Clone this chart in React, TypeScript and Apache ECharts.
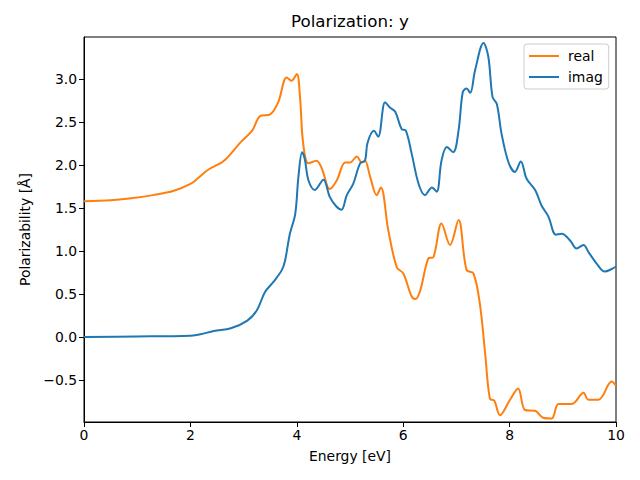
import React, { useEffect, useRef } from "react";
import * as echarts from "echarts";

const realE = [0, 0.5, 0.85, 1.3, 1.69, 2.0, 2.13, 2.32, 2.63, 2.95, 3.16, 3.31, 3.5, 3.65, 3.81, 3.9, 4.0, 4.06, 4.12, 4.22, 4.37, 4.47, 4.62, 4.75, 4.91, 5.0, 5.13, 5.22, 5.28, 5.38, 5.5, 5.58, 5.72, 5.88, 6.0, 6.16, 6.23, 6.32, 6.47, 6.57, 6.72, 6.88, 7.04, 7.19, 7.32, 7.44, 7.54, 7.63, 7.71, 7.82, 8.0, 8.16, 8.29, 8.48, 8.63, 8.79, 8.92, 9.17, 9.39, 9.48, 9.67, 9.92, 10];
const realV = [1.58, 1.59, 1.61, 1.65, 1.7, 1.78, 1.84, 1.94, 2.05, 2.27, 2.4, 2.57, 2.59, 2.73, 3.02, 2.98, 3.06, 2.79, 2.25, 2.02, 2.05, 1.96, 1.72, 1.82, 2.03, 2.03, 2.1, 2.03, 2.05, 1.86, 1.65, 1.74, 1.24, 0.81, 0.74, 0.47, 0.44, 0.54, 0.91, 0.93, 1.32, 1.07, 1.36, 0.78, 0.74, 0.39, -0.19, -0.72, -0.74, -0.91, -0.74, -0.6, -0.85, -0.86, -0.94, -0.95, -0.78, -0.78, -0.65, -0.73, -0.73, -0.52, -0.57];

const imagE = [0, 1, 2, 2.19, 2.44, 2.76, 3.07, 3.25, 3.4, 3.56, 3.72, 3.78, 3.87, 3.97, 4.03, 4.1, 4.15, 4.22, 4.34, 4.5, 4.62, 4.74, 4.84, 4.94, 5.06, 5.19, 5.28, 5.33, 5.45, 5.53, 5.66, 5.75, 5.85, 5.97, 6.05, 6.16, 6.29, 6.41, 6.54, 6.63, 6.72, 6.82, 6.94, 7.04, 7.12, 7.19, 7.26, 7.35, 7.51, 7.6, 7.68, 7.76, 7.85, 7.98, 8.1, 8.21, 8.32, 8.48, 8.6, 8.73, 8.87, 8.98, 9.14, 9.26, 9.39, 9.48, 9.64, 9.79, 9.92, 10];
const imagV = [0, 0.005, 0.015, 0.03, 0.07, 0.1, 0.19, 0.31, 0.52, 0.64, 0.78, 0.89, 1.2, 1.43, 1.86, 2.15, 2.07, 1.82, 1.71, 1.83, 1.63, 1.52, 1.48, 1.65, 1.78, 2.02, 2.05, 2.26, 2.4, 2.33, 2.73, 2.67, 2.62, 2.42, 2.4, 2.13, 1.78, 1.65, 1.74, 1.69, 2.05, 2.21, 2.15, 2.4, 2.85, 2.89, 2.84, 3.1, 3.42, 3.26, 2.79, 2.71, 2.36, 2.03, 1.92, 2.04, 1.84, 1.71, 1.53, 1.4, 1.19, 1.2, 1.12, 1.03, 1.07, 0.99, 0.85, 0.76, 0.79, 0.82];

const yTicks = [-0.5, 0, 0.5, 1.0, 1.5, 2.0, 2.5, 3.0];
const xTicks = [0, 2, 4, 6, 8, 10];

const FONT = "DejaVu Sans";

export default function App() {
  const ref = useRef<HTMLDivElement>(null);
  useEffect(() => {
    if (!ref.current) return;
    const chart = echarts.init(ref.current, undefined, { renderer: "svg" });
    const fmtY = (v: number) => v.toFixed(1).replace("-", "\u2212");
    chart.setOption({
      animation: false,
      backgroundColor: "#ffffff",
      textStyle: { fontFamily: FONT },
      title: {
        text: "Polarization: y",
        left: 291,
        top: 12,
        padding: 0,
        textStyle: { fontFamily: FONT, fontSize: 16.7, fontWeight: "normal", color: "#000" },
      },
      legend: {
        orient: "vertical",
        left: 524,
        top: 44,
        padding: [5, 6, 5, 5],
        itemWidth: 30,
        itemHeight: 14,
        itemGap: 7,
        borderColor: "#cccccc",
        borderWidth: 1,
        borderRadius: 3,
        backgroundColor: "rgba(255,255,255,0.8)",
        textStyle: { fontFamily: FONT, fontSize: 13.9, color: "#000", padding: [0, 0, 0, 4] },
        data: [
          { name: "real", icon: "path://M0,6 L30,6 L30,8 L0,8 Z" },
          { name: "imag", icon: "path://M0,6 L30,6 L30,8 L0,8 Z" },
        ],
      },
      grid: {
        left: 84,
        right: 24,
        top: 37,
        bottom: 58,
        show: true,
        borderColor: "#000",
        borderWidth: 1,
        backgroundColor: "transparent",
      },
      xAxis: {
        type: "value",
        min: 0,
        max: 10,
        interval: 2,
        name: "Energy [eV]",
        nameLocation: "middle",
        nameGap: 27,
        nameTextStyle: { fontFamily: FONT, fontSize: 13.9, color: "#000" },
        axisLine: { show: true, onZero: false, lineStyle: { color: "#000", width: 1 } },
        axisTick: { show: true, length: 5, lineStyle: { color: "#000" }, customValues: xTicks },
        axisLabel: { fontFamily: FONT, fontSize: 13.9, color: "#000", margin: 6, customValues: xTicks },
        splitLine: { show: false },
      },
      yAxis: {
        type: "value",
        min: -0.99,
        max: 3.49,
        name: "Polarizability [\u00c5]",
        nameLocation: "middle",
        nameRotate: 90,
        nameGap: 52,
        nameTextStyle: { fontFamily: FONT, fontSize: 13.9, color: "#000" },
        axisLine: { show: true, onZero: false, lineStyle: { color: "#000", width: 1 } },
        axisTick: { show: true, length: 5, lineStyle: { color: "#000" }, customValues: yTicks },
        axisLabel: {
          fontFamily: FONT,
          fontSize: 13.9,
          color: "#000",
          margin: 7,
          customValues: yTicks,
          formatter: (v: number) => fmtY(v),
        },
        splitLine: { show: false },
      },
      series: [
        {
          name: "real",
          type: "line",
          data: realE.map((e, i) => [e, realV[i]]),
          symbol: "none",
          smooth: 0.35,
          lineStyle: { color: "#ff7f0e", width: 2 },
          itemStyle: { color: "#ff7f0e" },
          z: 2,
        },
        {
          name: "imag",
          type: "line",
          data: imagE.map((e, i) => [e, imagV[i]]),
          symbol: "none",
          smooth: 0.35,
          lineStyle: { color: "#1f77b4", width: 2 },
          itemStyle: { color: "#1f77b4" },
          z: 3,
        },
      ],
    });
    return () => chart.dispose();
  }, []);
  return <div ref={ref} style={{ width: 640, height: 480, position: "absolute", left: 0, top: 0 }} />;
}
